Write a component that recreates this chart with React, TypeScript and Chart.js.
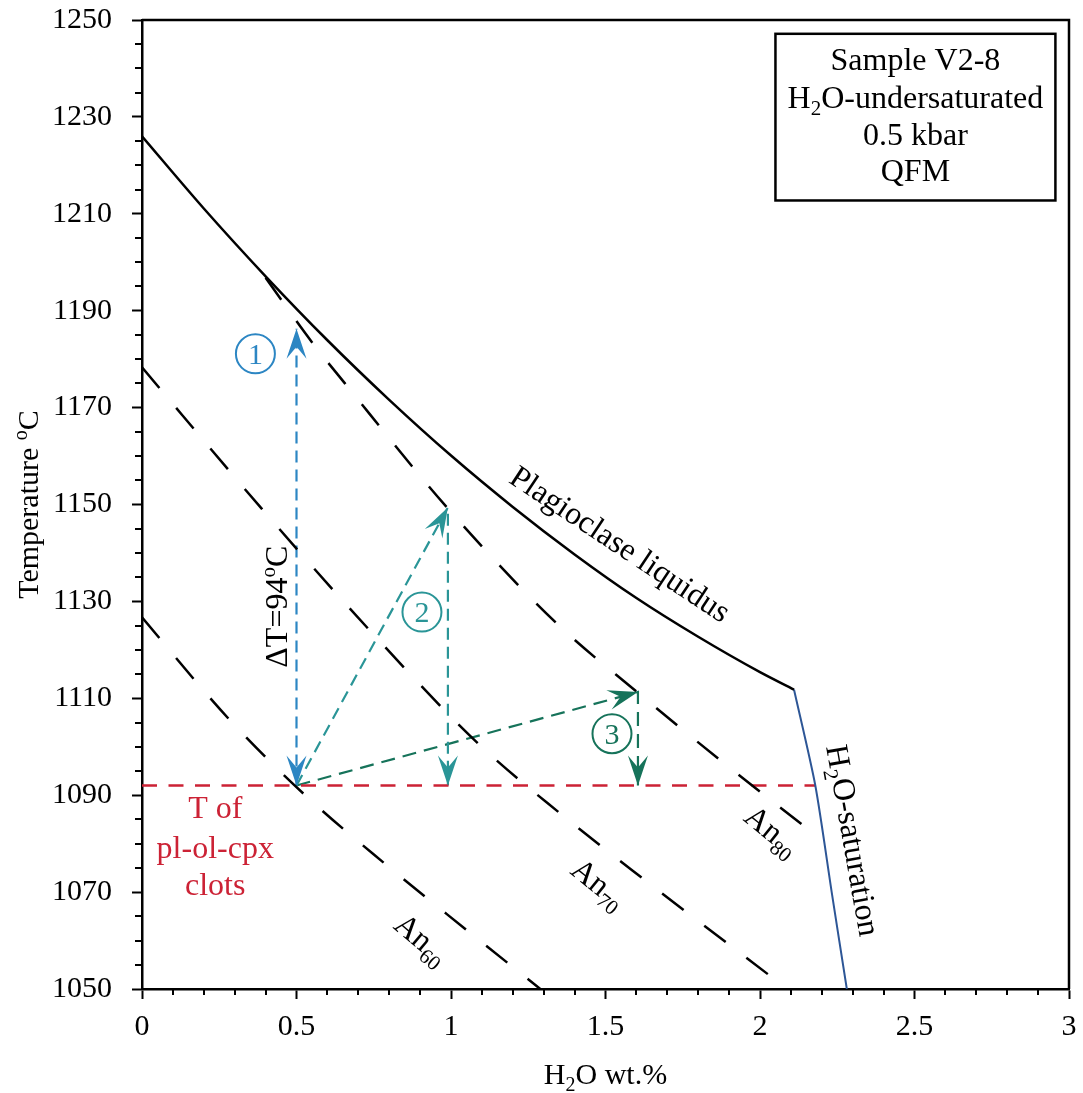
import React, { useEffect, useRef } from 'react';
import { Chart, registerables } from 'chart.js';

Chart.register(...registerables);

const FONT = '"Liberation Serif", "Times New Roman", serif';

// ---- data (H2O wt.% , temperature °C) ----
const liquidusX = [0, 0.2, 0.4, 0.6, 0.8, 1.0, 1.2, 1.4, 1.6, 1.8, 2.0, 2.11];
const liquidusT = [1226, 1211.1, 1197.1, 1183.9, 1171.6, 1160.1, 1149.5, 1139.7, 1130.7, 1122.7, 1115.4, 1111.8];

const saturationX = [2.11, 2.179, 2.232, 2.281];
const saturationT = [1111.8, 1092, 1070, 1050];

const an80X = [0.4, 0.55, 0.658, 0.987, 1.343, 1.602, 1.872, 2.147];
const an80T = [1196.8, 1183.5, 1174.9, 1149.4, 1125.4, 1111.3, 1097.2, 1083.4];

const an70X = [0, 0.388, 0.733, 1.089, 1.354, 1.629, 2.039];
const an70T = [1178.3, 1149.1, 1124.3, 1100.6, 1086.2, 1072.4, 1052.4];

const an60X = [0, 0.28, 0.523, 0.787, 1.052, 1.289];
const an60T = [1126.7, 1105.8, 1090.3, 1075.8, 1062.1, 1050.0];

const clotsX = [0, 2.179];
const clotsT = [1092, 1092];

const arrow1X = [0.5, 0.5];
const arrow1T = [1092, 1186.3];
const arrow2X = [0.5, 0.99, 0.99];
const arrow2T = [1092, 1149.4, 1092];
const arrow3X = [0.5, 1.605, 1.605];
const arrow3T = [1092, 1111.3, 1092];

const xTicks = [0, 0.5, 1, 1.5, 2, 2.5, 3];
const xTickLabels = ['0', '0.5', '1', '1.5', '2', '2.5', '3'];
const yTicks = [1050, 1070, 1090, 1110, 1130, 1150, 1170, 1190, 1210, 1230, 1250];
const yTickLabels = ['1050', '1070', '1090', '1110', '1130', '1150', '1170', '1190', '1210', '1230', '1250'];

// ---- colours ----
const BLACK = '#000000';
const SAT_BLUE = '#2d5696';
const RED = '#cc2235';
const ARROW_BLUE = '#2c86c3';
const ARROW_TEAL = '#2a9597';
const ARROW_GREEN = '#16735a';

type Part = { t: string; sub?: boolean; sup?: boolean };

// annotations (in data coordinates)
const rotatedLabels: { parts: Part[]; x: number; t: number; rot: number; color: string }[] = [
  { parts: [{ t: 'Plagioclase liquidus' }], x: 1.548, t: 1141.9, rot: 33.5, color: BLACK },
  { parts: [{ t: 'An' }, { t: '80', sub: true }], x: 2.04, t: 1082.7, rot: 39, color: BLACK },
  { parts: [{ t: 'An' }, { t: '70', sub: true }], x: 1.479, t: 1071.8, rot: 39, color: BLACK },
  { parts: [{ t: 'An' }, { t: '60', sub: true }], x: 0.906, t: 1060.4, rot: 40, color: BLACK },
  { parts: [{ t: 'H' }, { t: '2', sub: true }, { t: 'O-saturation' }], x: 2.302, t: 1080.7, rot: 80, color: BLACK },
  { parts: [{ t: 'ΔT=94' }, { t: 'o', sup: true }, { t: 'C' }], x: 0.435, t: 1128.9, rot: -90, color: BLACK },
];

const clotsLines = ['T of', 'pl-ol-cpx', 'clots'];
const clotsLabelX = 0.237;
const clotsBaselines = [1085.2, 1077.1, 1069.3];

const circleLabels = [
  { text: '1', x: 0.367, t: 1181.1, color: ARROW_BLUE },
  { text: '2', x: 0.906, t: 1127.8, color: ARROW_TEAL },
  { text: '3', x: 1.521, t: 1102.7, color: ARROW_GREEN },
];

const boxLines: Part[][] = [
  [{ t: 'Sample V2-8' }],
  [{ t: 'H' }, { t: '2', sub: true }, { t: 'O-undersaturated' }],
  [{ t: '0.5 kbar' }],
  [{ t: 'QFM' }],
];
const boxX = [2.05, 2.956];
const boxT = [1247.15, 1212.75];
const boxTextX = 2.503;
const boxBaselines = [1239.6, 1231.9, 1224.3, 1216.7];

const zip = (xs: number[], ys: number[]) => xs.map((x, i) => ({ x, y: ys[i] }));

function drawRich(
  ctx: CanvasRenderingContext2D,
  parts: Part[],
  x: number,
  y: number,
  size: number,
  color: string,
  rot = 0,
  vcenter = true,
) {
  ctx.save();
  ctx.translate(x, y);
  ctx.rotate((rot * Math.PI) / 180);
  ctx.fillStyle = color;
  ctx.textBaseline = 'alphabetic';
  ctx.textAlign = 'left';
  const small = Math.round(size * 0.66);
  const widths = parts.map((p) => {
    ctx.font = `${p.sub || p.sup ? small : size}px ${FONT}`;
    return ctx.measureText(p.t).width;
  });
  const total = widths.reduce((a, b) => a + b, 0);
  let cx = -total / 2;
  const base = vcenter ? size * 0.33 : 0;
  parts.forEach((p, i) => {
    ctx.font = `${p.sub || p.sup ? small : size}px ${FONT}`;
    const dy = p.sub ? size * 0.22 : p.sup ? -size * 0.36 : 0;
    ctx.fillText(p.t, cx, base + dy);
    cx += widths[i];
  });
  ctx.restore();
}

function drawHead(ctx: CanvasRenderingContext2D, fx: number, fy: number, tx: number, ty: number, color: string) {
  const dx = tx - fx;
  const dy = ty - fy;
  const len = Math.hypot(dx, dy) || 1;
  const ux = dx / len;
  const uy = dy / len;
  const nx = -uy;
  const ny = ux;
  const L = 30;
  const W = 10;
  const N = 12;
  ctx.save();
  ctx.fillStyle = color;
  ctx.beginPath();
  ctx.moveTo(tx, ty);
  ctx.lineTo(tx - L * ux + W * nx, ty - L * uy + W * ny);
  ctx.lineTo(tx - (L - N) * ux, ty - (L - N) * uy);
  ctx.lineTo(tx - L * ux - W * nx, ty - L * uy - W * ny);
  ctx.closePath();
  ctx.fill();
  ctx.restore();
}

const annotationPlugin = {
  id: 'annotations',
  afterDatasetsDraw(chart: any) {
    const ctx: CanvasRenderingContext2D = chart.ctx;
    const xs = chart.scales.x;
    const ys = chart.scales.y;
    const px = (v: number) => xs.getPixelForValue(v);
    const py = (v: number) => ys.getPixelForValue(v);

    // arrowheads
    const heads: [number[], number[], string, number[][]][] = [
      [arrow1X, arrow1T, ARROW_BLUE, [[0, 1], [1, 0]]],
      [arrow2X, arrow2T, ARROW_TEAL, [[0, 1], [1, 2]]],
      [arrow3X, arrow3T, ARROW_GREEN, [[0, 1], [1, 2]]],
    ];
    heads.forEach(([ax, at, col, segs]) => {
      segs.forEach(([a, b]) => {
        drawHead(ctx, px(ax[a]), py(at[a]), px(ax[b]), py(at[b]), col);
      });
    });

    // rotated labels
    rotatedLabels.forEach((l) => drawRich(ctx, l.parts, px(l.x), py(l.t), 32, l.color, l.rot, true));

    // clots label
    clotsLines.forEach((s, i) => drawRich(ctx, [{ t: s }], px(clotsLabelX), py(clotsBaselines[i]), 32, RED, 0, false));

    // circled numbers
    circleLabels.forEach((c) => {
      const cx = px(c.x);
      const cy = py(c.t);
      ctx.save();
      ctx.strokeStyle = c.color;
      ctx.lineWidth = 2;
      ctx.beginPath();
      ctx.arc(cx, cy, 19.5, 0, Math.PI * 2);
      ctx.stroke();
      ctx.restore();
      drawRich(ctx, [{ t: c.text }], cx, cy, 30, c.color, 0, true);
    });

    // info box
    const bx0 = px(boxX[0]);
    const bx1 = px(boxX[1]);
    const by0 = py(boxT[0]);
    const by1 = py(boxT[1]);
    ctx.save();
    ctx.fillStyle = '#ffffff';
    ctx.fillRect(bx0, by0, bx1 - bx0, by1 - by0);
    ctx.strokeStyle = BLACK;
    ctx.lineWidth = 2.5;
    ctx.strokeRect(bx0, by0, bx1 - bx0, by1 - by0);
    ctx.restore();
    boxLines.forEach((parts, i) => drawRich(ctx, parts, px(boxTextX), py(boxBaselines[i]), 32, BLACK, 0, false));
  },
  afterDraw(chart: any) {
    const ctx: CanvasRenderingContext2D = chart.ctx;
    const area = chart.chartArea;
    const xs = chart.scales.x;
    const ys = chart.scales.y;
    ctx.save();
    ctx.strokeStyle = BLACK;
    // top and right frame
    ctx.lineWidth = 2.5;
    ctx.beginPath();
    ctx.moveTo(area.left, area.top);
    ctx.lineTo(area.right, area.top);
    ctx.lineTo(area.right, area.bottom);
    ctx.stroke();
    // minor ticks
    ctx.lineWidth = 2;
    ctx.beginPath();
    for (let k = 1; k < 40; k++) {
      const v = 1050 + k * 5;
      if (k % 4 === 0) continue;
      const y = Math.round(ys.getPixelForValue(v));
      ctx.moveTo(area.left - 7, y);
      ctx.lineTo(area.left, y);
    }
    for (let k = 1; k < 30; k++) {
      if (k % 5 === 0) continue;
      const x = Math.round(xs.getPixelForValue(k / 10));
      ctx.moveTo(x, area.bottom);
      ctx.lineTo(x, area.bottom + 6);
    }
    ctx.stroke();
    ctx.restore();

    // axis titles
    drawRich(ctx, [{ t: 'H' }, { t: '2', sub: true }, { t: 'O wt.%' }], (area.left + area.right) / 2, 1084, 30, BLACK, 0, false);
    drawRich(ctx, [{ t: 'Temperature ' }, { t: 'o', sup: true }, { t: 'C' }], 28, (area.top + area.bottom) / 2, 30, BLACK, -90, true);
  },
};

export default function App() {
  const ref = useRef<HTMLCanvasElement | null>(null);

  useEffect(() => {
    if (!ref.current) return;
    const lineDs = (data: { x: number; y: number }[], color: string, width: number, dash: number[] = [], mono = false, tension = 0) => ({
      data,
      showLine: true,
      borderColor: color,
      backgroundColor: color,
      borderWidth: width,
      borderDash: dash,
      pointRadius: 0,
      pointHoverRadius: 0,
      fill: false,
      tension,
      cubicInterpolationMode: mono ? 'monotone' : 'default',
    });

    const chart = new Chart(ref.current, {
      type: 'scatter',
      data: {
        datasets: [
          lineDs(zip(an80X, an80T), BLACK, 2.5, [27, 26], true),
          lineDs(zip(an70X, an70T), BLACK, 2.5, [27, 26], true),
          lineDs(zip(an60X, an60T), BLACK, 2.5, [27, 26], true),
          lineDs(zip(liquidusX, liquidusT), BLACK, 2.5, [], true),
          lineDs(zip(saturationX, saturationT), SAT_BLUE, 2, [], false, 0.25),
          lineDs(zip(clotsX, clotsT), RED, 2.3, [15, 11.5]),
          lineDs(zip(arrow1X, arrow1T), ARROW_BLUE, 2.2, [12, 7]),
          lineDs(zip(arrow2X, arrow2T), ARROW_TEAL, 2.2, [12, 7]),
          lineDs(zip(arrow3X, arrow3T), ARROW_GREEN, 2.2, [14, 8]),
        ] as any,
      },
      options: {
        responsive: false,
        maintainAspectRatio: false,
        animation: false,
        events: [],
        layout: { padding: { top: 20, right: 14, left: 0, bottom: 0 } },
        plugins: { legend: { display: false }, tooltip: { enabled: false }, title: { display: false } },
        scales: {
          x: {
            type: 'linear',
            min: 0,
            max: 3,
            afterBuildTicks: (s: any) => {
              s.ticks = xTicks.map((v) => ({ value: v }));
            },
            afterFit: (s: any) => {
              s.height = 104;
              s.paddingLeft = 0;
              s.paddingRight = 0;
            },
            ticks: {
              autoSkip: false,
              maxRotation: 0,
              padding: 10,
              color: BLACK,
              font: { family: FONT, size: 30 },
              callback: (v: any) => {
                const i = xTicks.indexOf(Number(v));
                return i >= 0 ? xTickLabels[i] : '';
              },
            },
            grid: { display: true, drawOnChartArea: false, drawTicks: true, tickLength: 10, tickWidth: 2, tickColor: BLACK },
            border: { display: true, color: BLACK, width: 2.5 },
          },
          y: {
            type: 'linear',
            min: 1050,
            max: 1250,
            afterBuildTicks: (s: any) => {
              s.ticks = yTicks.map((v) => ({ value: v }));
            },
            afterFit: (s: any) => {
              s.width = 142;
              s.paddingTop = 0;
              s.paddingBottom = 0;
            },
            ticks: {
              autoSkip: false,
              padding: 20,
              color: BLACK,
              font: { family: FONT, size: 30 },
              callback: (v: any) => {
                const i = yTicks.indexOf(Number(v));
                return i >= 0 ? yTickLabels[i] : '';
              },
            },
            grid: { display: true, drawOnChartArea: false, drawTicks: true, tickLength: 10, tickWidth: 2, tickColor: BLACK },
            border: { display: true, color: BLACK, width: 2.5 },
          },
        },
      } as any,
      plugins: [annotationPlugin],
    });
    return () => chart.destroy();
  }, []);

  return (
    <div style={{ position: 'absolute', left: 0, top: 0, width: 1083, height: 1093, background: '#ffffff' }}>
      <canvas ref={ref} width={1083} height={1093} style={{ display: 'block' }} />
    </div>
  );
}
